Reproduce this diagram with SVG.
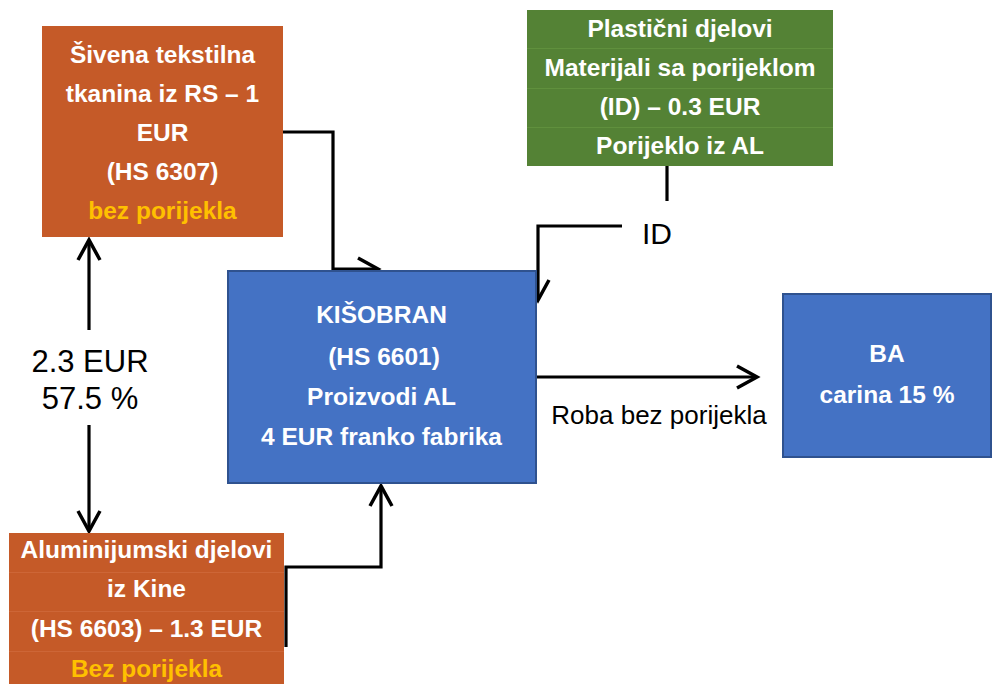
<svg xmlns="http://www.w3.org/2000/svg" width="993" height="684" viewBox="0 0 993 684">
<style>
.bx{font-family:"Liberation Sans",Arial,sans-serif;font-weight:bold;font-size:24.5px;fill:#ffffff;text-anchor:middle}
.yl{fill:#FFC000}
.lb{font-family:"Liberation Sans",Arial,sans-serif;fill:#000000;text-anchor:middle}
.cn{fill:none;stroke:#000000;stroke-width:3.2}
.org{fill:#C55A28}
.blue{fill:#4472C4;stroke:#2F528F;stroke-width:2}
.row{stroke-width:1}
</style>
<defs>
<marker id="ah" viewBox="-26 -15 30 30" markerWidth="30" markerHeight="30" refX="0" refY="0" orient="auto" markerUnits="userSpaceOnUse">
<path d="M-20,-11 L0,0 L-20,11" fill="none" stroke="#000000" stroke-width="3.5"/>
</marker>
</defs>
<g id="connectors">
<path class="cn" d="M283,132 H333 V269 H378" marker-end="url(#ah)"/>
<path class="cn" d="M667,166 V201"/>
<path class="cn" d="M622,226 H538 V300" marker-end="url(#ah)"/>
<path class="cn" d="M536,377 H757" marker-end="url(#ah)"/>
<path class="cn" d="M89,330 V240" marker-end="url(#ah)"/>
<path class="cn" d="M89,425 V531" marker-end="url(#ah)"/>
<path class="cn" d="M286,647 V567 H381 V486" marker-end="url(#ah)"/>
<text class="lb" x="657" y="244" font-size="30">ID</text>
<text class="lb" x="90" y="372" font-size="31">2.3 EUR</text>
<text class="lb" x="90" y="409" font-size="31">57.5 %</text>
<text class="lb" x="659" y="424" font-size="26">Roba bez porijekla</text>
</g>
<g id="node-tekstil">
<rect class="org" x="42" y="26" width="241" height="211"/>
<text class="bx" x="162.5" y="63">Šivena tekstilna</text>
<text class="bx" x="162.5" y="102">tkanina iz RS – 1</text>
<text class="bx" x="162.5" y="141">EUR</text>
<text class="bx" x="162.5" y="180">(HS 6307)</text>
<text class="bx yl" x="162.5" y="219">bez porijekla</text>
</g>
<g id="node-plastika">
<rect x="527" y="10" width="306" height="156" fill="#548235"/>
<g stroke="#60903D" class="row">
<line x1="527" y1="48.5" x2="833" y2="48.5"/>
<line x1="527" y1="88.5" x2="833" y2="88.5"/>
<line x1="527" y1="127.5" x2="833" y2="127.5"/>
</g>
<text class="bx" x="680" y="37">Plastični djelovi</text>
<text class="bx" x="680" y="76">Materijali sa porijeklom</text>
<text class="bx" x="680" y="115">(ID) – 0.3 EUR</text>
<text class="bx" x="680" y="154">Porijeklo iz AL</text>
</g>
<g id="node-kisobran">
<rect class="blue" x="228" y="271" width="308" height="212"/>
<text class="bx" x="381.5" y="323">KIŠOBRAN</text>
<text class="bx" x="384" y="365">(HS 6601)</text>
<text class="bx" x="381.5" y="405">Proizvodi AL</text>
<text class="bx" x="381.5" y="445">4 EUR franko fabrika</text>
</g>
<g id="node-aluminij">
<rect class="org" x="9" y="533" width="275" height="157"/>
<g stroke="#CD6637" class="row">
<line x1="9" y1="572.5" x2="284" y2="572.5"/>
<line x1="9" y1="611.5" x2="284" y2="611.5"/>
<line x1="9" y1="651.5" x2="284" y2="651.5"/>
</g>
<text class="bx" x="146.5" y="558">Aluminijumski djelovi</text>
<text class="bx" x="146.5" y="597">iz Kine</text>
<text class="bx" x="146.5" y="637">(HS 6603) – 1.3 EUR</text>
<text class="bx yl" x="146.5" y="677">Bez porijekla</text>
</g>
<g id="node-ba">
<rect class="blue" x="783" y="294" width="208" height="163"/>
<text class="bx" x="887" y="362">BA</text>
<text class="bx" x="887" y="403">carina 15 %</text>
</g>
</svg>
